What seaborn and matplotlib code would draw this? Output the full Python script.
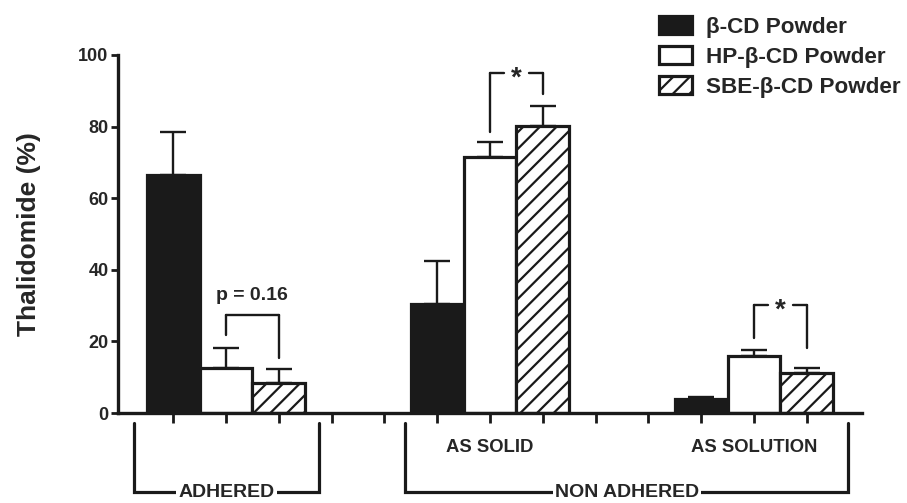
import pandas as pd
import matplotlib.pyplot as plt
import matplotlib.patches as mpatches
import seaborn as sns

# values (%)
groups = ['ADHERED', 'AS SOLID', 'AS SOLUTION']
powders = ['β-CD Powder', 'HP-β-CD Powder', 'SBE-β-CD Powder']
beta_cd = [66.5, 30.4, 3.8]
beta_cd_err = [12.1, 12.1, 0.7]
hp_beta_cd = [12.5, 71.4, 15.9]
hp_beta_cd_err = [5.6, 4.2, 1.7]
sbe_beta_cd = [8.3, 80.3, 11.1]
sbe_beta_cd_err = [3.9, 5.5, 1.6]

# bar slots on the x axis (two empty slots between groups)
group_start = [0, 5, 10]

rows = []
for g, start in enumerate(group_start):
    for k, (vals, errs) in enumerate([(beta_cd, beta_cd_err),
                                      (hp_beta_cd, hp_beta_cd_err),
                                      (sbe_beta_cd, sbe_beta_cd_err)]):
        rows.append({'pos': start + k, 'value': vals[g], 'err': errs[g],
                     'powder': powders[k], 'group': groups[g]})
df = pd.DataFrame(rows)

sns.set_style('ticks')
plt.rcParams['font.family'] = ['Liberation Sans', 'DejaVu Sans']
plt.rcParams['font.weight'] = 'bold'
plt.rcParams['hatch.linewidth'] = 1.6
ink = '#1a1a1a'

fig = plt.figure(figsize=(9.07, 5.03), dpi=100)
ax = fig.add_axes([0.1304, 0.1789, 0.8196, 0.7118])

sns.barplot(data=df, x='pos', y='value', hue='powder', hue_order=powders,
            native_scale=True, width=1, dodge=False, errorbar=None,
            palette=[ink, 'white', 'white'], edgecolor=ink, linewidth=2.3,
            saturation=1, legend=False, ax=ax)
for bar in ax.containers[2]:
    bar.set_hatch('//')

ax.errorbar(df['pos'], df['value'], yerr=[[0] * len(df), df['err']],
            fmt='none', ecolor=ink, elinewidth=1.7, capsize=9.7, capthick=1.7,
            zorder=0.5)

ax.set_xlim(-1.04, 13.04)
ax.set_ylim(0, 100)
ax.set_xticks(range(13))
ax.set_xticklabels([])
ax.set_yticks([0, 20, 40, 60, 80, 100])
ax.tick_params(axis='x', length=7, width=2, color=ink)
ax.tick_params(axis='y', length=5, width=2, color=ink, labelsize=13, pad=2)
ax.set_xlabel('')
ax.set_ylabel('Thalidomide (%)', fontsize=19, fontweight='bold', labelpad=27)
sns.despine(ax=ax)
for side in ['left', 'bottom']:
    ax.spines[side].set_linewidth(2.4)
    ax.spines[side].set_color(ink)

lw = 1.7


def sig_bracket(x0, x1, top, y0, y1, label, size, gap=None):
    ax.plot([x0, x0], [y0, top], color=ink, lw=lw, clip_on=False)
    ax.plot([x1, x1], [y1, top], color=ink, lw=lw, clip_on=False)
    if gap is None:
        ax.plot([x0, x1], [top, top], color=ink, lw=lw, clip_on=False)
        ax.text((x0 + x1) / 2, top + 5.4, label, ha='center', va='center',
                fontsize=size, fontweight='bold')
    else:
        mid = (x0 + x1) / 2
        ax.plot([x0, mid - gap], [top, top], color=ink, lw=lw, clip_on=False)
        ax.plot([mid + gap, x1], [top, top], color=ink, lw=lw, clip_on=False)
        ax.text(mid, top - 1.5, label, ha='center', va='center',
                fontsize=size, fontweight='bold')


sig_bracket(1, 2, 27.4, 21.8, 15.3, 'p = 0.16', 14)
sig_bracket(6, 7, 94.9, 78.6, 89.0, '*', 20, gap=0.24)
sig_bracket(11, 12, 30.2, 20.9, 18.1, '*', 20, gap=0.24)

# group brackets under the axis
def group_bracket(x0, x1, label):
    ax.plot([x0, x0, x1, x1], [-2.8, -22.0, -22.0, -2.8], color=ink,
            lw=2.3, clip_on=False, solid_joinstyle='miter')
    ax.text((x0 + x1) / 2, -22.2, label, ha='center', va='center',
            fontsize=14, fontweight='bold',
            bbox=dict(facecolor='white', edgecolor='none', pad=1.5))


group_bracket(-0.74, 2.76, 'ADHERED')
group_bracket(4.40, 12.78, 'NON ADHERED')
ax.text(6, -9.5, 'AS SOLID', ha='center', va='center', fontsize=13.3,
        fontweight='bold')
ax.text(11, -9.5, 'AS SOLUTION', ha='center', va='center', fontsize=13.3,
        fontweight='bold')

handles = [
    mpatches.Patch(facecolor=ink, edgecolor=ink, lw=2.3, label=powders[0]),
    mpatches.Patch(facecolor='white', edgecolor=ink, lw=2.3, label=powders[1]),
    mpatches.Patch(facecolor='white', edgecolor=ink, lw=2.3, hatch='//',
                   label=powders[2]),
]
fig.legend(handles=handles, loc='upper left', bbox_to_anchor=(0.727, 0.968),
           frameon=False, handlelength=1.44, handleheight=0.87,
           handletextpad=0.62, labelspacing=0.36, borderpad=0,
           borderaxespad=0, prop={'weight': 'bold', 'size': 16.2})

fig.savefig('out.png', dpi=100)
